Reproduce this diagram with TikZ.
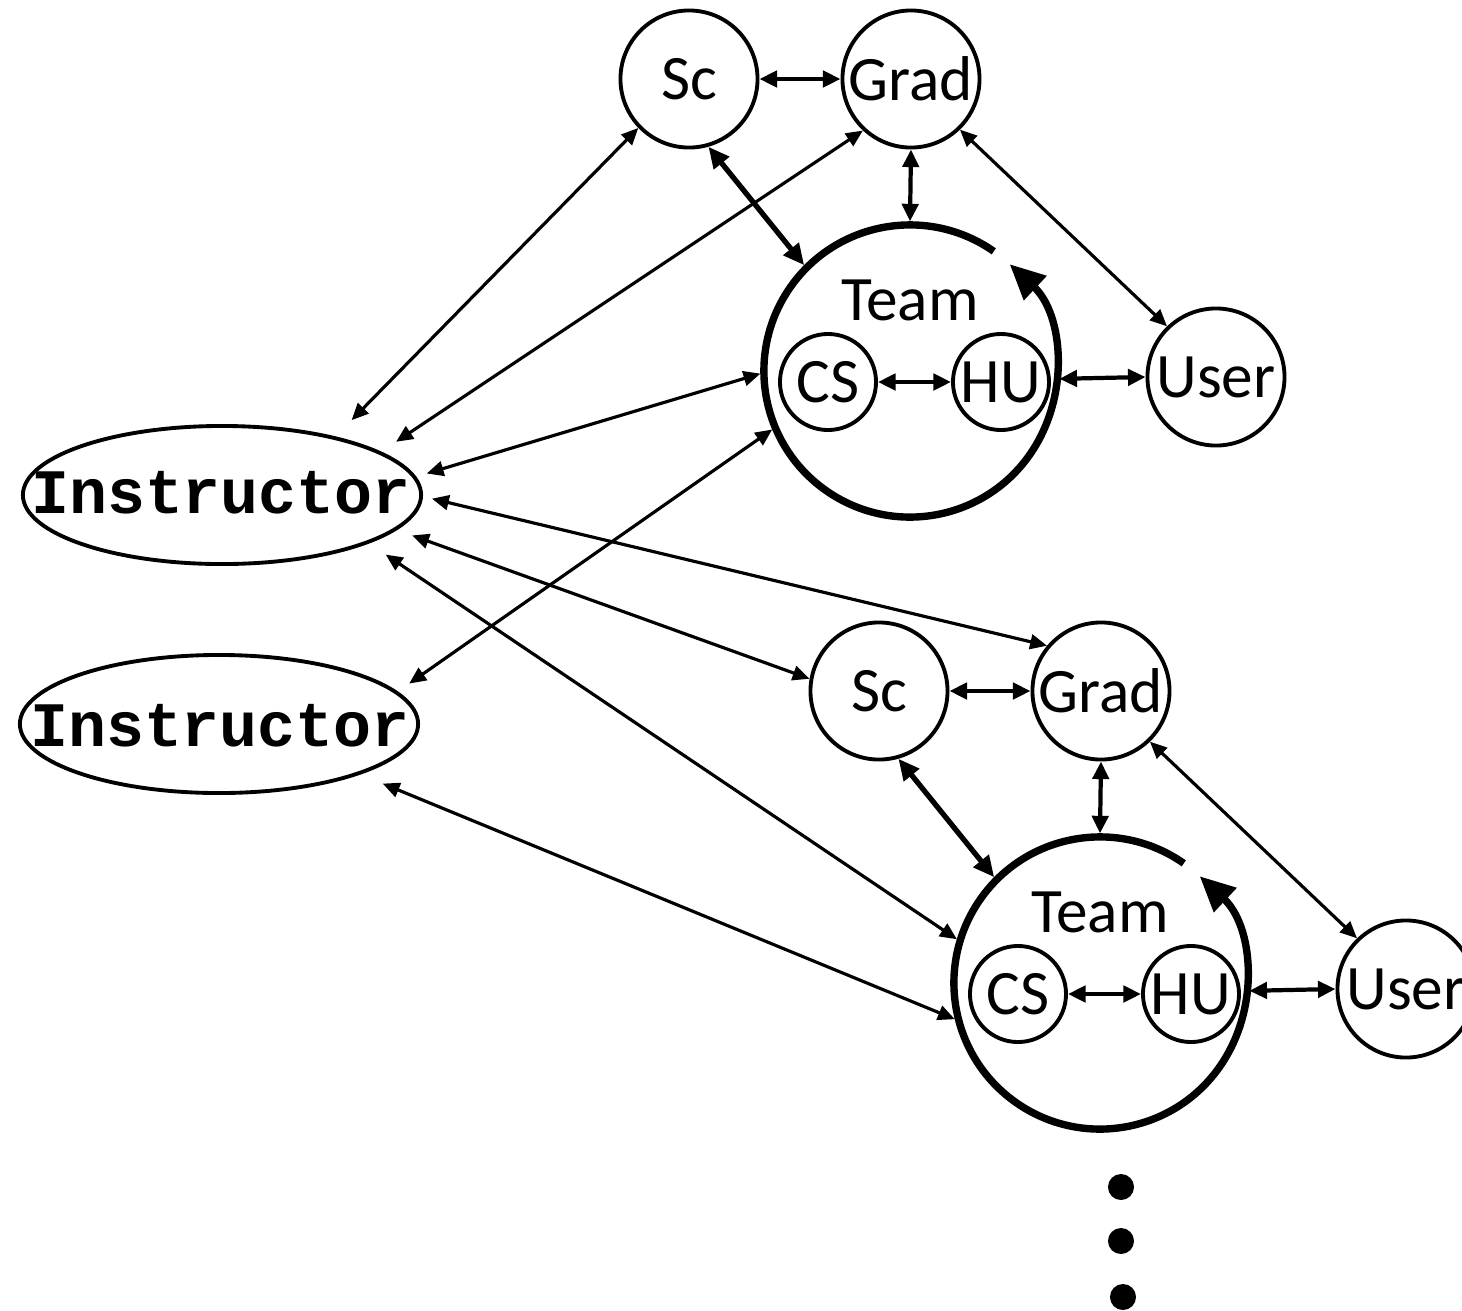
\documentclass[tikz,border=0pt]{standalone}
\usepackage{fontspec}
\setmainfont{Carlito}
\newfontfamily\instrfont{Liberation Mono}
\usetikzlibrary{arrows.meta,shapes.geometric}
\tikzset{
  circ/.style={circle, draw, line width=1.1pt, inner sep=0pt, font=\fontsize{18pt}{21pt}\selectfont},
  bigc/.style={circ, minimum size=1.37cm},
  smallc/.style={circ, minimum size=0.96cm},
  teamc/.style={circle, inner sep=0pt, minimum size=2.92cm, outer sep=1pt},
  teamlbl/.style={inner sep=0pt, font=\fontsize{18pt}{21pt}\selectfont},
  instr/.style={ellipse, draw, line width=1.1pt, inner sep=0pt, minimum width=3.98cm, minimum height=1.38cm,
    outer xsep=0.11cm, outer ysep=0.26cm},
  instrlbl/.style={inner sep=0pt, font=\instrfont\bfseries\fontsize{18pt}{20pt}\selectfont},
  dotn/.style={circle, fill, inner sep=0pt, minimum size=0.26cm},
  conn/.style={line width=0.9pt, {Triangle[length=4.8pt,width=4.2pt]}-{Triangle[length=4.8pt,width=4.2pt]}},
  connmid/.style={line width=1.2pt, {Triangle[length=5pt,width=4.6pt]}-{Triangle[length=5pt,width=4.6pt]}},
  connthick/.style={line width=1.5pt, {Triangle[length=6pt,width=5.4pt]}-{Triangle[length=6pt,width=5.4pt]}},
  teamarc/.style={line width=2.1pt, -{Triangle[length=10pt,width=9pt]}}
}
\begin{document}
\begin{tikzpicture}[x=0.01cm,y=0.01cm]
\clip (0,0) rectangle (1462,-1311);
% top group
\node[bigc] (sc1) at (689,-79) {Sc};
\node[bigc] (grad1) at (911,-79) {Grad};
\node[teamc] (team1) at (910,-371) {};
\node[teamlbl] (team1t) at (910,-300) {Team};
\node[smallc] (cs1) at (828,-382) {CS};
\node[smallc] (hu1) at (1001,-382) {HU};
\node[bigc] (user1) at (1216,-377) {User};
% bottom group
\node[bigc] (sc2) at (879,-691) {Sc};
\node[bigc] (grad2) at (1101,-691) {Grad};
\node[teamc] (team2) at (1100,-983) {};
\node[teamlbl] (team2t) at (1100,-912) {Team};
\node[smallc] (cs2) at (1018,-994) {CS};
\node[smallc] (hu2) at (1191,-994) {HU};
\node[bigc] (user2) at (1406,-989) {User};
% instructors
\node[instr] (instr1) at (222,-495) {};
\node[instrlbl] (instr1t) at (221,-493) {Instructor};
\node[instr] (instr2) at (219,-724) {};
\node[instrlbl] (instr2t) at (220,-726) {Instructor};
% dots
\node[dotn] (dot1) at (1121,-1187) {};
\node[dotn] (dot2) at (1121,-1241) {};
\node[dotn] (dot3) at (1123,-1297) {};
% team arcs
\draw[teamarc] (team1.center) ++(55:1.46cm) arc[start angle=55,end angle=407,radius=1.46cm];
\draw[teamarc] (team2.center) ++(55:1.46cm) arc[start angle=55,end angle=407,radius=1.46cm];
% top group connectors
\draw[connmid] (sc1) -- (grad1);
\draw[connthick] (sc1.286) -- (team1.135);
\draw[connmid] (grad1.270) -- (team1.90);
\draw[conn] (grad1.314) -- (user1.134);
\draw[connmid] (cs1) -- (hu1);
\draw[connmid] (team1.-3) -- (user1.west);
% bottom group connectors
\draw[connmid] (sc2) -- (grad2);
\draw[connthick] (sc2.286) -- (team2.135);
\draw[connmid] (grad2.270) -- (team2.90);
\draw[conn] (grad2.314) -- (user2.134);
\draw[connmid] (cs2) -- (hu2);
\draw[connmid] (team2.-3) -- (user2.west);
% instructor connectors
\draw[conn] (sc1.224) -- (instr1.30);
\draw[conn] (grad1.227) -- (instr1.17);
\draw[conn] (team1.181) -- (instr1.6);
\draw[conn] (team1.203) -- (instr2.12);
\draw[conn] (instr1.359) -- (grad2.140);
\draw[conn] (instr1.348) -- (sc2.170);
\draw[conn] (instr1.340) -- (team2.163);
\draw[conn] (instr2.340) -- (team2.194);
\end{tikzpicture}
\end{document}
